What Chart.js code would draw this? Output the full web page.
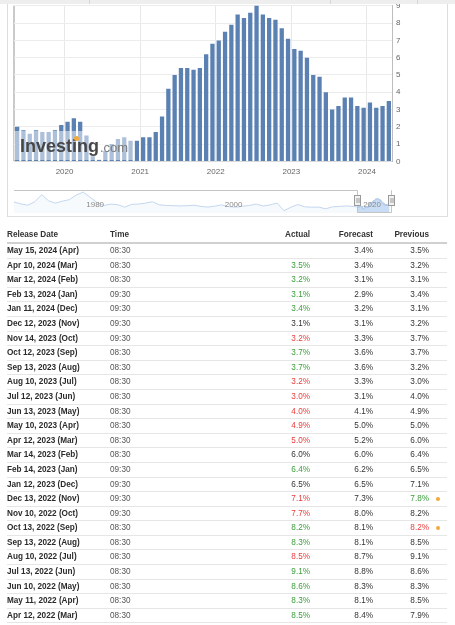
<!DOCTYPE html>
<html>
<head>
<meta charset="utf-8">
<script src="https://cdn.jsdelivr.net/npm/chart.js@4.4.1/dist/chart.umd.min.js"></script>
<style>
body{margin:0;background:#fff;font-family:"Liberation Sans",Arial,sans-serif;}
#page{position:relative;width:455px;height:625px;overflow:hidden;}
#topbar{position:absolute;left:0;top:0;width:455px;height:4px;background:#eeeeee;z-index:5;}
#topbar i{position:absolute;top:0;width:1px;height:4px;background:#d6d6d6;}
#box{position:absolute;left:7px;top:0;width:439px;height:216px;border:1px solid #dedede;border-top:none;}
#mainWrap{position:absolute;left:0;top:-3px;width:455px;height:190px;}
#navWrap{position:absolute;left:0;top:180px;width:455px;height:40px;}
#wm{position:absolute;left:14px;top:131px;width:121px;height:29px;background:rgba(255,255,255,0.5);z-index:3;}
#wm .inv{position:absolute;left:6px;top:5px;font-size:18px;font-weight:bold;color:#474747;line-height:20px;}
#wm .com{position:absolute;left:86px;top:9px;font-size:13px;color:#7b7b7b;line-height:16px;}
#wm .dot{position:absolute;left:60px;top:5px;width:5px;height:5px;border-radius:50%;background:#f2a93b;}
#tbl{position:absolute;left:7px;top:228px;width:440px;border-collapse:collapse;table-layout:fixed;font-size:8.2px;color:#333;}
#tbl th{font-weight:bold;height:14px;padding:0;border-bottom:2px solid #d0d0d0;text-align:left;line-height:14px;}
#tbl td{padding:0;height:13.6px;line-height:13.6px;border-bottom:1px solid #e6e6e6;white-space:nowrap;}
#tbl .r{text-align:right;}
#tbl td.d{font-weight:bold;color:#2b2b2b;}
#tbl td.t{color:#555;}
.up{color:#3a9f3a;}
.down{color:#ea3c3c;}
.rev{display:inline-block;width:4px;height:4px;border-radius:50%;background:#f2a93b;margin-left:7px;vertical-align:middle;}
</style>
</head>
<body>
<div id="page">
  <div id="box"></div>
  <div id="mainWrap"><canvas id="cpiChart"></canvas></div>
  <div id="wm"><span class="inv">Investing</span><span class="com">.com</span><span class="dot"></span></div>
  <div id="navWrap"><canvas id="navChart"></canvas></div>
  <div id="topbar"><i style="left:89px"></i><i style="left:330px"></i><i style="left:417px"></i></div>
  <table id="tbl">
    <colgroup><col style="width:103px"><col style="width:120px"><col style="width:80px"><col style="width:63px"><col style="width:56px"><col style="width:18px"></colgroup>
    <thead><tr><th>Release Date</th><th>Time</th><th class="r">Actual</th><th class="r">Forecast</th><th class="r">Previous</th><th></th></tr></thead>
    <tbody id="rows"></tbody>
  </table>
</div>
<script>
// release months of the bars (data month = previous month)
const months = [
  '2019-05','2019-06','2019-07','2019-08','2019-09','2019-10','2019-11','2019-12',
  '2020-01','2020-02','2020-03','2020-04','2020-05','2020-06','2020-07','2020-08','2020-09','2020-10','2020-11','2020-12',
  '2021-01','2021-02','2021-03','2021-04','2021-05','2021-06','2021-07','2021-08','2021-09','2021-10','2021-11','2021-12',
  '2022-01','2022-02','2022-03','2022-04','2022-05','2022-06','2022-07','2022-08','2022-09','2022-10','2022-11','2022-12',
  '2023-01','2023-02','2023-03','2023-04','2023-05','2023-06','2023-07','2023-08','2023-09','2023-10','2023-11','2023-12',
  '2024-01','2024-02','2024-03','2024-04'
];
const cpiValues = [
  2.0,1.8,1.6,1.8,1.7,1.7,1.8,2.1,
  2.3,2.5,2.3,1.5,0.3,0.1,0.6,1.0,1.3,1.4,1.2,1.2,
  1.4,1.4,1.7,2.6,4.2,5.0,5.4,5.4,5.3,5.4,6.2,6.8,
  7.0,7.5,7.9,8.5,8.3,8.6,9.1,8.5,8.3,8.2,7.7,7.1,
  6.5,6.4,6.0,5.0,4.9,4.0,3.0,3.2,3.7,3.7,3.2,3.1,
  3.4,3.1,3.2,3.5
];
const yTicks = [0,1,2,3,4,5,6,7,8,9];

// navigator history (yearly)
const navYears = [1970,1971,1972,1973,1974,1975,1976,1977,1978,1979,1980,1981,1982,1983,1984,1985,1986,1987,1988,1989,
  1990,1991,1992,1993,1994,1995,1996,1997,1998,1999,2000,2001,2002,2003,2004,2005,2006,2007,2008,2009,
  2010,2011,2012,2013,2014,2015,2016,2017,2018];
const navValues = [6.0,4.3,3.2,6.2,12.2,7.0,5.0,6.7,8.0,12.0,14.5,10.0,5.5,3.0,4.2,3.6,1.5,4.0,4.2,5.0,
  6.2,3.5,3.0,2.8,2.6,2.8,3.2,2.2,1.6,2.4,3.5,2.0,1.5,2.3,3.0,4.2,2.5,3.5,5.0,-1.5,
  1.5,3.8,1.8,1.5,1.6,0.1,1.8,2.1,2.6];
const navLabels = [1980, 2000, 2020];
const navSelection = [2019.55, 2024.6];

// table
const releaseDates = ['May 15, 2024 (Apr)','Apr 10, 2024 (Mar)','Mar 12, 2024 (Feb)','Feb 13, 2024 (Jan)','Jan 11, 2024 (Dec)',
  'Dec 12, 2023 (Nov)','Nov 14, 2023 (Oct)','Oct 12, 2023 (Sep)','Sep 13, 2023 (Aug)','Aug 10, 2023 (Jul)','Jul 12, 2023 (Jun)',
  'Jun 13, 2023 (May)','May 10, 2023 (Apr)','Apr 12, 2023 (Mar)','Mar 14, 2023 (Feb)','Feb 14, 2023 (Jan)','Jan 12, 2023 (Dec)',
  'Dec 13, 2022 (Nov)','Nov 10, 2022 (Oct)','Oct 13, 2022 (Sep)','Sep 13, 2022 (Aug)','Aug 10, 2022 (Jul)','Jul 13, 2022 (Jun)',
  'Jun 10, 2022 (May)','May 11, 2022 (Apr)','Apr 12, 2022 (Mar)'];
const times = ['08:30','08:30','08:30','09:30','09:30','09:30','09:30','08:30','08:30','08:30','08:30','08:30','08:30','08:30',
  '08:30','09:30','09:30','09:30','09:30','08:30','08:30','08:30','08:30','08:30','08:30','08:30'];
const actual = [null,3.5,3.2,3.1,3.4,3.1,3.2,3.7,3.7,3.2,3.0,4.0,4.9,5.0,6.0,6.4,6.5,7.1,7.7,8.2,8.3,8.5,9.1,8.6,8.3,8.5];
const forecast = [3.4,3.4,3.1,2.9,3.2,3.1,3.3,3.6,3.6,3.3,3.1,4.1,5.0,5.2,6.0,6.2,6.5,7.3,8.0,8.1,8.1,8.7,8.8,8.3,8.1,8.4];
const previous = [3.5,3.2,3.1,3.4,3.1,3.2,3.7,3.7,3.2,3.0,4.0,4.9,5.0,6.0,6.4,6.5,7.1,7.8,8.2,8.2,8.5,9.1,8.6,8.3,8.5,7.9];
const previousRevised = ['','','','','','','','','','','','','','','','','','up','','down','','','','','',''];

const fmt = v => v === null ? '' : v.toFixed(1) + '%';
let html = '';
releaseDates.forEach((d, i) => {
  let cls = '';
  if (actual[i] !== null && actual[i] > forecast[i]) cls = 'up';
  if (actual[i] !== null && actual[i] < forecast[i]) cls = 'down';
  const rev = previousRevised[i];
  html += '<tr><td class="d">' + d + '</td><td class="t">' + times[i] + '</td>' +
    '<td class="r ' + cls + '">' + fmt(actual[i]) + '</td>' +
    '<td class="r">' + fmt(forecast[i]) + '</td>' +
    '<td class="r ' + rev + '">' + fmt(previous[i]) + '</td>' +
    '<td>' + (rev ? '<span class="rev"></span>' : '') + '</td></tr>';
});
document.getElementById('rows').innerHTML = html;

const font = {family: '"Liberation Sans", Arial, sans-serif', size: 8};

// main bar chart
const cpiChart = new Chart(document.getElementById('cpiChart'), {
  type: 'bar',
  data: {
    labels: months,
    datasets: [{
      data: cpiValues,
      backgroundColor: '#5b81b3',
      categoryPercentage: 1,
      barPercentage: 0.68
    }]
  },
  options: {
    animation: false,
    responsive: true,
    maintainAspectRatio: false,
    layout: {padding: {left: 14, right: 0, top: 0, bottom: 4}},
    plugins: {legend: {display: false}, tooltip: {enabled: false}},
    scales: {
      x: {
        grid: {
          offset: true,
          drawTicks: false,
          //ligne de gauche + une ligne par année
          color: c => c.index === 0 ? '#cacaca' : (months[c.index] && months[c.index].endsWith('-01') ? '#e8e8e8' : 'rgba(0,0,0,0)'),
          lineWidth: c => c.index === 0 ? 2 : 1
        },
        border: {color: '#dadada'},
        ticks: {
          autoSkip: false,
          maxRotation: 0,
          padding: 6,
          labelOffset: -3,
          color: '#666',
          font: font,
          callback: (v, i) => months[i].endsWith('-01') ? months[i].slice(0, 4) : ''
        }
      },
      y: {
        position: 'right',
        min: 0,
        max: 9,
        afterBuildTicks: s => { s.ticks = yTicks.map(v => ({value: v})); },
        afterFit: s => { s.width = 63; },
        ticks: {padding: 4, color: '#666', font: font},
        grid: {color: '#ececec', drawTicks: false},
        border: {color: '#bdbdbd'}
      }
    }
  }
});

// navigator under the chart
const navData = navYears.map((y, i) => ({x: y, y: navValues[i]}))
  .concat(months.map((m, i) => ({x: +m.slice(0, 4) + (+m.slice(5) - 1) / 12, y: cpiValues[i]})));

// couleur visible seulement dans la zone sélectionnée
function selectionPaint(c, color) {
  const chart = c.chart;
  if (!chart.chartArea || !chart.scales.x) return color;
  const x = chart.scales.x, a = chart.chartArea;
  const l = x.getPixelForValue(navSelection[0]), r = x.getPixelForValue(navSelection[1]);
  const g = chart.ctx.createLinearGradient(a.left, 0, a.right, 0);
  const w = a.right - a.left;
  const p1 = Math.max(0, Math.min(1, (l - a.left) / w)), p2 = Math.max(0, Math.min(1, (r - a.left) / w));
  g.addColorStop(0, 'rgba(0,0,0,0)');
  g.addColorStop(p1, 'rgba(0,0,0,0)');
  g.addColorStop(p1, color);
  g.addColorStop(p2, color);
  if (p2 < 1) { g.addColorStop(p2, 'rgba(0,0,0,0)'); g.addColorStop(1, 'rgba(0,0,0,0)'); }
  return g;
}

const navigatorPlugin = {
  id: 'navigator',
  afterDraw(chart) {
    const {ctx, chartArea: a, scales: {x}} = chart;
    const l = Math.round(x.getPixelForValue(navSelection[0])) + 0.5;
    const r = Math.round(x.getPixelForValue(navSelection[1])) - 0.5;
    ctx.save();
    // labels
    ctx.fillStyle = '#8a8a8a';
    ctx.font = '8px "Liberation Sans", Arial, sans-serif';
    ctx.textBaseline = 'middle';
    ctx.textAlign = 'left';
    navLabels.forEach(yr => ctx.fillText(String(yr), x.getPixelForValue(yr) + 3, a.top + 15));
    // outline
    ctx.strokeStyle = '#c4c4c4';
    ctx.lineWidth = 1;
    ctx.beginPath();
    ctx.moveTo(a.left, a.top + 0.5);
    ctx.lineTo(l, a.top + 0.5);
    ctx.lineTo(l, a.bottom - 0.5);
    ctx.lineTo(r, a.bottom - 0.5);
    ctx.lineTo(r, a.top + 0.5);
    ctx.lineTo(a.right, a.top + 0.5);
    ctx.stroke();
    // handles
    [l, r].forEach(px => {
      ctx.fillStyle = '#f2f2f2';
      ctx.strokeStyle = '#9a9a9a';
      ctx.fillRect(px - 3, a.top + 5.5, 6, 10);
      ctx.strokeRect(px - 3, a.top + 5.5, 6, 10);
      ctx.beginPath();
      ctx.moveTo(px - 0.5, a.top + 8); ctx.lineTo(px - 0.5, a.top + 13);
      ctx.moveTo(px + 1.5, a.top + 8); ctx.lineTo(px + 1.5, a.top + 13);
      ctx.stroke();
    });
    ctx.restore();
  }
};

const navChart = new Chart(document.getElementById('navChart'), {
  type: 'line',
  data: {
    datasets: [
      {data: navData, borderColor: '#c3d6ee', borderWidth: 1, backgroundColor: 'rgba(214,228,245,0.2)', fill: 'start', pointRadius: 0},
      {data: navData, borderColor: c => selectionPaint(c, '#5f8fcc'), borderWidth: 1,
        backgroundColor: c => selectionPaint(c, 'rgba(165,198,238,0.65)'), fill: 'start', pointRadius: 0}
    ]
  },
  options: {
    animation: false,
    responsive: true,
    maintainAspectRatio: false,
    layout: {padding: {left: 14, right: 63, top: 10, bottom: 7}},
    plugins: {legend: {display: false}, tooltip: {enabled: false}},
    scales: {
      x: {type: 'linear', min: 1970, max: 2024.6, display: false},
      y: {min: -3.5, max: 16.3, display: false}
    }
  },
  plugins: [navigatorPlugin]
});
</script>
</body>
</html>
